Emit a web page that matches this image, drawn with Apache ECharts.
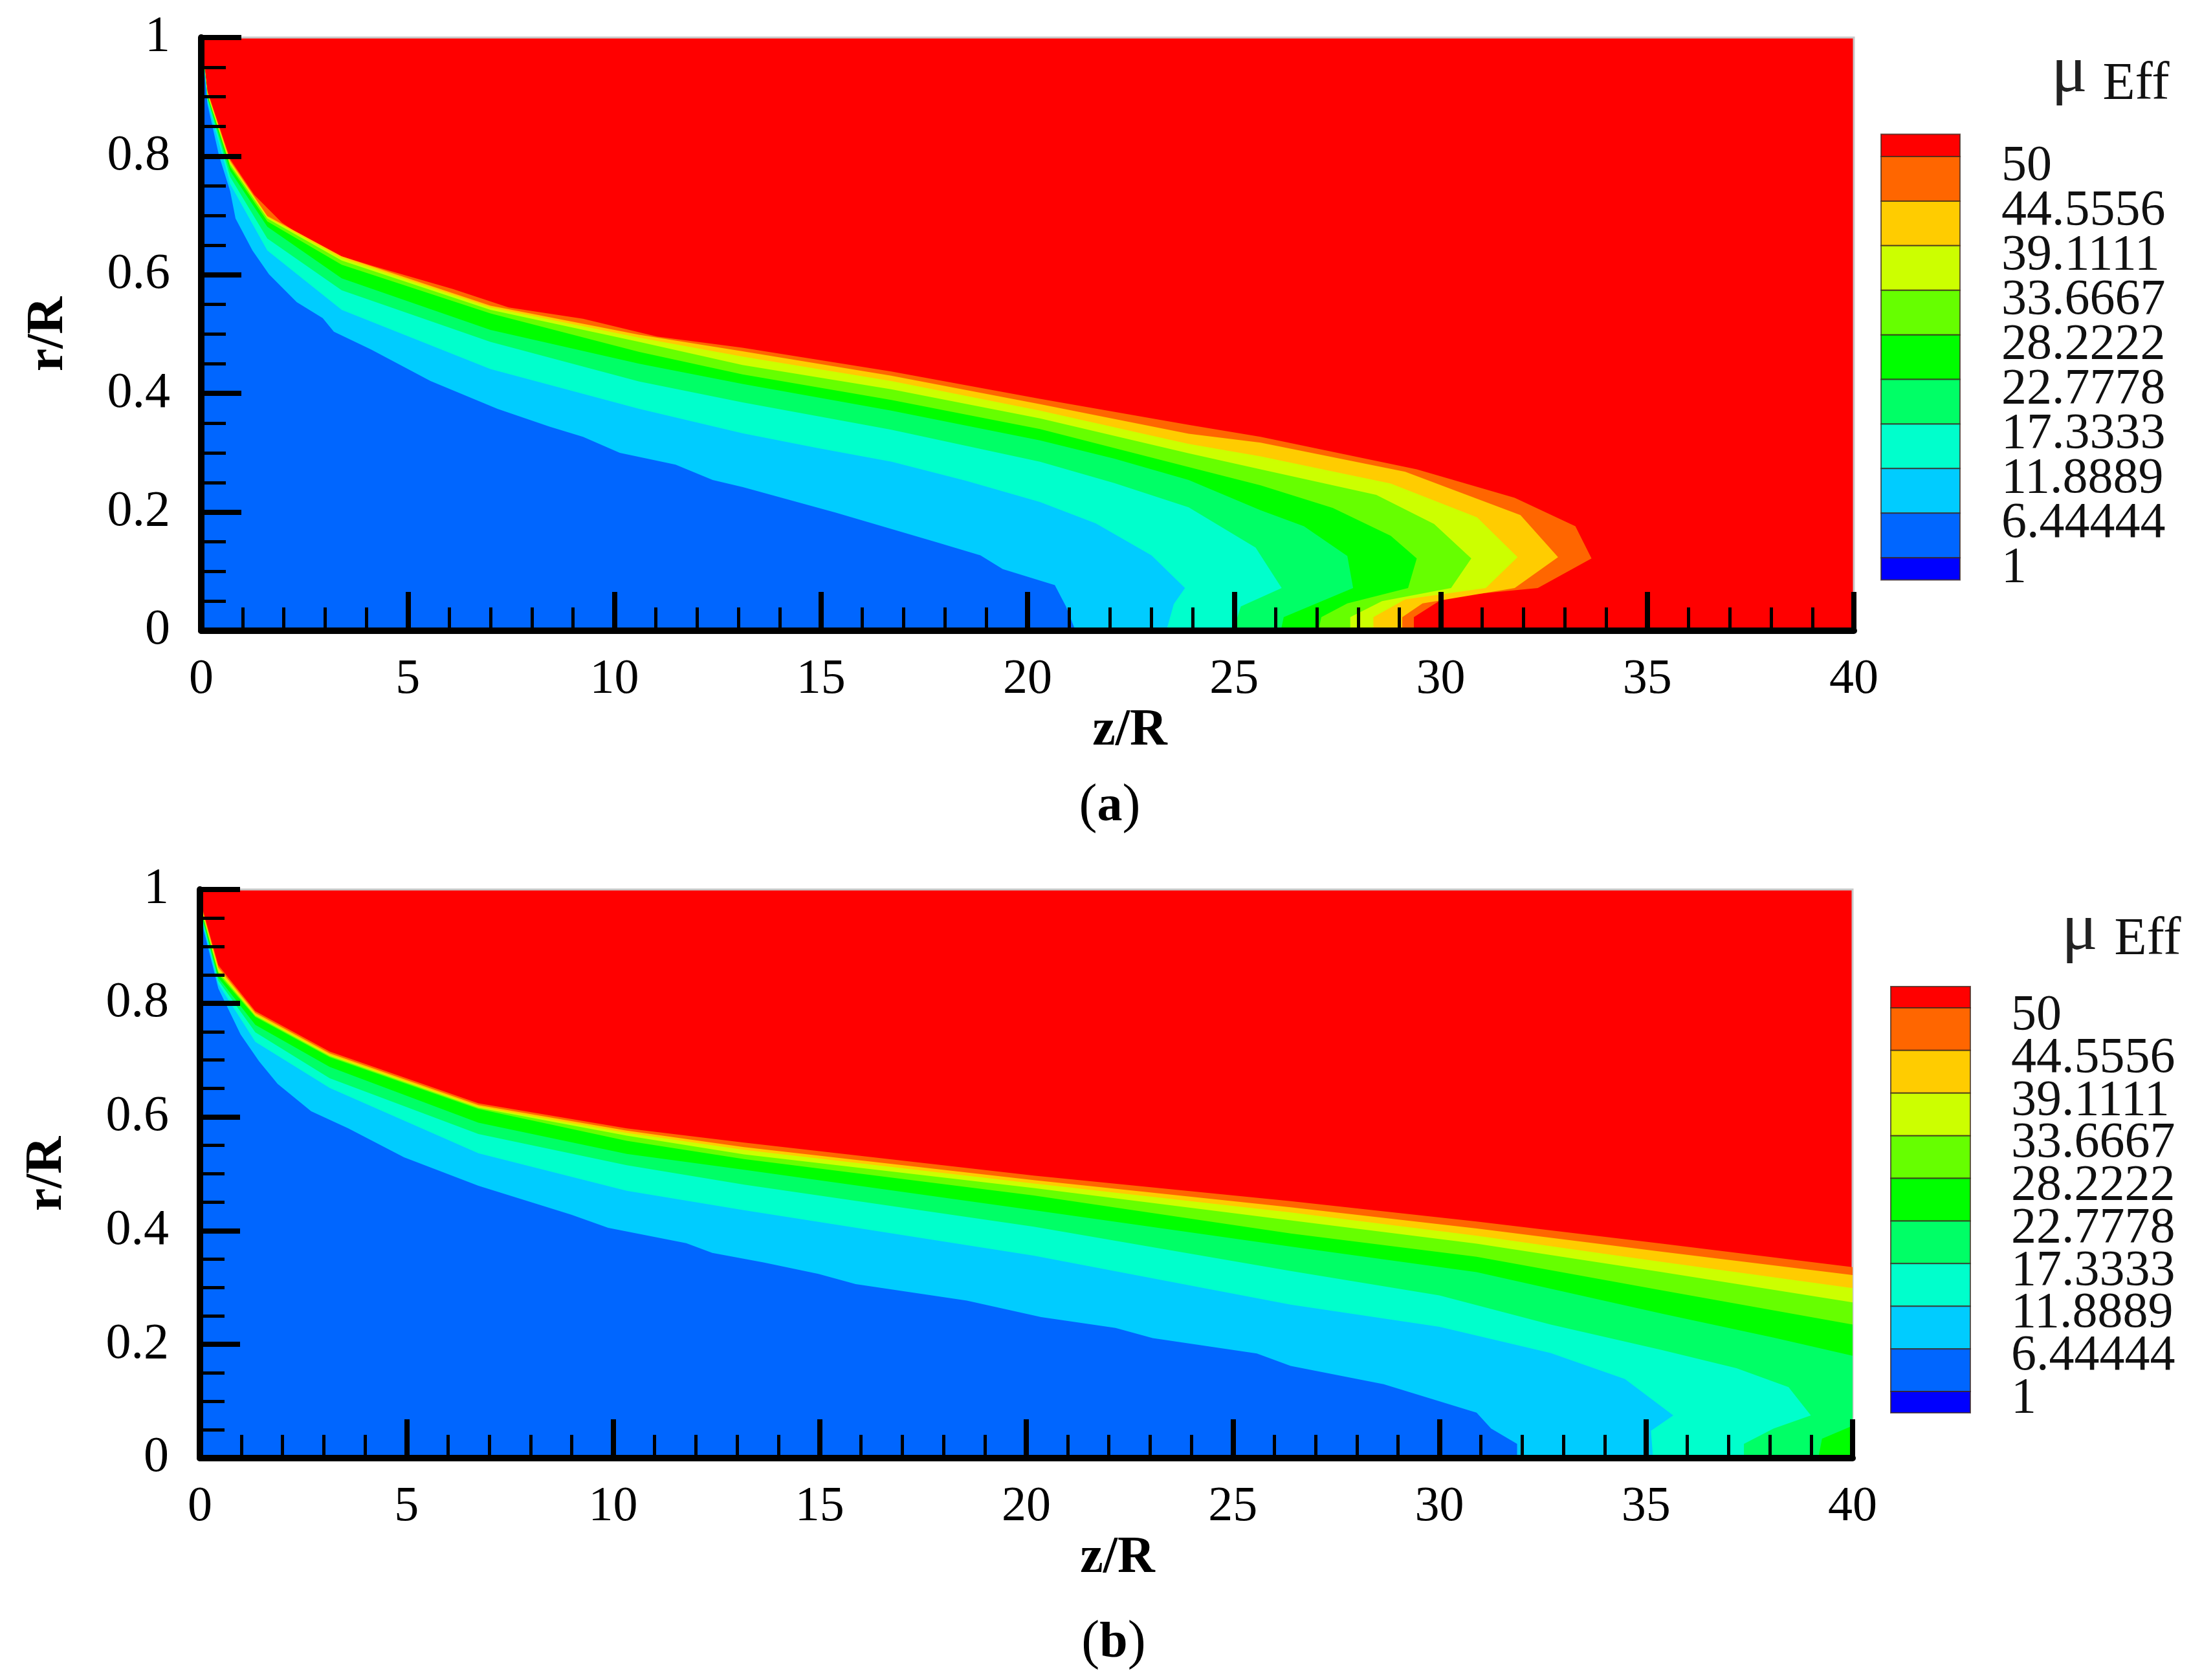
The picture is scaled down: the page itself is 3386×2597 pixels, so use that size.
<!DOCTYPE html>
<html>
<head>
<meta charset="utf-8">
<script src="https://cdn.jsdelivr.net/npm/echarts@6/dist/echarts.min.js"></script>
<style>
  html, body { margin: 0; padding: 0; background: #fff; }
  #chart { width: 3386px; height: 2597px; }
</style>
</head>
<body>
<div id="chart"></div>
<script>
// contour levels of mu_Eff, highest first
const levelLabels = ['50', '44.5556', '39.1111', '33.6667', '28.2222', '22.7778', '17.3333', '11.8889', '6.44444', '1'];
// band colours, from the band above 50 down to the band below 1
const bandColors = ['#ff0000', '#ff6600', '#ffcc00', '#ccff00', '#66ff00', '#00ff00', '#00ff66', '#00ffcc', '#00ccff', '#0066ff', '#0000ff'];

// (a) contour lines [z/R, r/R]
const a50 = [[0, 1], [0.15, 0.91], [0.7, 0.795], [1.28, 0.735], [1.95, 0.688], [2.94, 0.641], [4.11, 0.616], [6.09, 0.576], [7.44, 0.545], [9.24, 0.526], [11.03, 0.496], [13.1, 0.477], [16.7, 0.437], [20.3, 0.391], [23.9, 0.347], [25.64, 0.327], [29.42, 0.272], [31.79, 0.224], [33.26, 0.176], [33.65, 0.122], [32.35, 0.072], [30.12, 0.057], [29.35, 0.023], [29.35, 0]];
const a44 = [[0, 1], [0.15, 0.908], [0.7, 0.792], [1.6, 0.699], [3.4, 0.631], [7.0, 0.548], [10.6, 0.499], [13.1, 0.471], [16.7, 0.43], [20.3, 0.382], [23.9, 0.332], [25.64, 0.317], [29.14, 0.268], [31.93, 0.195], [32.84, 0.124], [31.79, 0.072], [29.56, 0.046], [29.07, 0.023], [29.07, 0]];
const a39 = [[0, 1], [0.15, 0.906], [0.7, 0.789], [1.6, 0.697], [3.4, 0.628], [7.0, 0.545], [10.6, 0.494], [13.1, 0.462], [16.7, 0.421], [20.3, 0.371], [23.9, 0.315], [25.64, 0.294], [28.79, 0.248], [30.88, 0.191], [31.86, 0.124], [31.09, 0.072], [29.14, 0.053], [28.37, 0.023], [28.37, 0]];
const a33 = [[0, 1], [0.15, 0.904], [0.7, 0.786], [1.6, 0.695], [3.4, 0.624], [7.0, 0.541], [10.6, 0.487], [13.1, 0.448], [16.7, 0.407], [20.3, 0.358], [23.9, 0.299], [25.64, 0.272], [28.44, 0.229], [29.84, 0.18], [30.74, 0.122], [30.25, 0.072], [28.58, 0.05], [27.81, 0.023], [27.81, 0]];
const a28 = [[0, 1], [0.15, 0.902], [0.7, 0.782], [1.6, 0.69], [3.4, 0.617], [7.0, 0.535], [10.6, 0.47], [13.1, 0.432], [16.7, 0.389], [20.3, 0.34], [23.9, 0.276], [25.64, 0.245], [27.39, 0.207], [28.79, 0.16], [29.42, 0.122], [29.21, 0.072], [27.74, 0.046], [27.11, 0.023], [27.04, 0]];
const a22 = [[0, 1], [0.15, 0.9], [0.7, 0.775], [1.6, 0.681], [3.4, 0.594], [7.0, 0.507], [10.6, 0.45], [13.1, 0.416], [16.7, 0.371], [20.3, 0.321], [22.1, 0.29], [23.9, 0.254], [25.64, 0.203], [26.69, 0.176], [27.74, 0.126], [27.88, 0.072], [26.2, 0.023], [26.13, 0]];
const a17 = [[0, 1], [0.15, 0.897], [0.7, 0.765], [1.6, 0.661], [3.4, 0.574], [7.0, 0.487], [10.6, 0.42], [13.1, 0.385], [16.7, 0.339], [20.3, 0.285], [22.1, 0.249], [23.9, 0.208], [25.52, 0.14], [26.15, 0.072], [25.16, 0.041], [24.98, 0]];
const a11 = [[0, 1], [0.15, 0.893], [0.7, 0.753], [1.6, 0.641], [3.4, 0.541], [7.0, 0.441], [10.6, 0.374], [13.1, 0.333], [14.91, 0.308], [16.71, 0.285], [18.5, 0.253], [20.3, 0.217], [21.65, 0.181], [23.0, 0.127], [23.81, 0.072], [23.54, 0.045], [23.36, 0]];
const a6 = [[0, 1], [0.15, 0.888], [0.43, 0.801], [0.7, 0.741], [0.83, 0.695], [1.24, 0.641], [1.64, 0.601], [2.31, 0.554], [2.94, 0.527], [3.21, 0.504], [4.11, 0.474], [5.55, 0.421], [7.17, 0.374], [8.43, 0.344], [9.24, 0.327], [10.13, 0.3], [11.48, 0.28], [12.38, 0.254], [13.11, 0.242], [15.36, 0.199], [17.8, 0.149], [18.86, 0.127], [19.4, 0.104], [20.66, 0.077], [20.93, 0.041], [21.16, 0]];

// (b) contour lines [z/R, r/R]
const b50 = [[0, 1], [0.085, 0.96], [0.445, 0.867], [1.34, 0.786], [3.14, 0.715], [6.74, 0.624], [10.33, 0.58], [13.17, 0.555], [20.18, 0.497], [26.4, 0.452], [30.9, 0.416], [35.39, 0.377], [40, 0.336], [40, 0]];
const b44 = [[0, 1], [0.085, 0.957], [0.445, 0.863], [1.34, 0.783], [3.14, 0.712], [6.74, 0.621], [10.33, 0.576], [13.17, 0.547], [20.18, 0.489], [26.4, 0.441], [30.9, 0.404], [35.39, 0.363], [40, 0.322], [40, 0]];
const b39 = [[0, 1], [0.085, 0.954], [0.445, 0.859], [1.34, 0.78], [3.14, 0.709], [6.74, 0.618], [10.33, 0.572], [13.17, 0.542], [20.18, 0.483], [26.4, 0.432], [30.9, 0.391], [35.39, 0.345], [40, 0.299], [40, 0]];
const b33 = [[0, 1], [0.085, 0.951], [0.445, 0.855], [1.34, 0.778], [3.14, 0.707], [6.74, 0.616], [10.33, 0.567], [13.17, 0.534], [20.18, 0.475], [26.4, 0.418], [30.9, 0.377], [35.39, 0.327], [40, 0.274], [40, 0]];
const b28 = [[0, 1], [0.085, 0.948], [0.445, 0.851], [1.34, 0.776], [3.14, 0.705], [6.74, 0.614], [10.33, 0.558], [13.17, 0.526], [20.18, 0.462], [26.4, 0.395], [30.9, 0.354], [35.39, 0.295], [40, 0.235], [40, 0]];
const b22 = [[0, 1], [0.085, 0.944], [0.445, 0.845], [1.34, 0.762], [3.14, 0.688], [6.74, 0.59], [10.33, 0.535], [13.17, 0.507], [20.18, 0.436], [26.4, 0.372], [30.9, 0.327], [35.39, 0.254], [38.09, 0.212], [40, 0.18], [40, 0.057], [39.26, 0.034], [39.17, 0]];
const b17 = [[0, 1], [0.085, 0.94], [0.445, 0.84], [1.34, 0.749], [3.14, 0.668], [6.74, 0.57], [10.33, 0.515], [13.17, 0.481], [20.18, 0.407], [26.4, 0.329], [30.0, 0.286], [32.69, 0.235], [35.39, 0.19], [37.19, 0.158], [38.45, 0.125], [38.99, 0.075], [38.09, 0.052], [37.37, 0.025], [37.37, 0]];
const b11 = [[0, 1], [0.085, 0.936], [0.445, 0.834], [1.34, 0.732], [3.14, 0.651], [6.74, 0.536], [10.33, 0.47], [13.17, 0.436], [20.18, 0.356], [26.4, 0.27], [30.0, 0.231], [32.69, 0.185], [34.49, 0.139], [35.66, 0.075], [35.12, 0.048], [35.17, 0]];
const b6 = [[0, 1], [0.085, 0.93], [0.445, 0.826], [0.985, 0.745], [1.43, 0.698], [1.88, 0.658], [2.69, 0.61], [3.59, 0.58], [4.94, 0.529], [6.74, 0.479], [8.99, 0.428], [9.88, 0.405], [11.77, 0.378], [12.4, 0.361], [13.64, 0.344], [14.97, 0.324], [15.87, 0.306], [18.56, 0.277], [20.36, 0.248], [22.16, 0.229], [23.06, 0.211], [25.58, 0.184], [26.4, 0.162], [28.65, 0.13], [30.9, 0.08], [31.25, 0.052], [31.88, 0.025], [31.88, 0]];

const contoursA = [a50, a44, a39, a33, a28, a22, a17, a11, a6];
const contoursB = [b50, b44, b39, b33, b28, b22, b17, b11, b6];

const serif = '"Liberation Serif", "DejaVu Serif", serif';
const chart = echarts.init(document.getElementById('chart'));

// fills the region under each contour line, outermost first
function contourSeries(contours, idx) {
  return {
    type: 'custom',
    xAxisIndex: idx,
    yAxisIndex: idx,
    z: 1,
    silent: true,
    animation: false,
    clip: true,
    data: contours.map((c, i) => [i, 0]),
    renderItem: function (params, api) {
      const points = contours[params.dataIndex].map(p => api.coord(p));
      points.push(api.coord([0, 0]));
      return {
        type: 'polygon',
        shape: { points: points },
        style: { fill: bandColors[params.dataIndex + 1] }
      };
    }
  };
}

function xAxisFor(idx, namePad) {
  return {
    type: 'value', gridIndex: idx, min: 0, max: 40, interval: 5, z: 5,
    name: 'z/R', nameLocation: 'middle', nameGap: 100,
    nameTextStyle: { fontFamily: serif, fontWeight: 'bold', fontSize: 80, color: '#000', padding: [0, 0, 0, namePad] },
    axisLine: { show: true, onZero: false, lineStyle: { color: '#000', width: 10 } },
    axisTick: { show: true, inside: true, length: 60, lineStyle: { color: '#000', width: 8 } },
    minorTick: { show: true, splitNumber: 5, length: 36, lineStyle: { color: '#000', width: 5 } },
    axisLabel: { margin: 38, fontFamily: serif, fontSize: 76, color: '#000' },
    splitLine: { show: false }
  };
}

function yAxisFor(idx) {
  return {
    type: 'value', gridIndex: idx, min: 0, max: 1, interval: 0.2, z: 5,
    name: 'r/R', nameLocation: 'middle', nameGap: 196, nameRotate: 90,
    nameTextStyle: { fontFamily: serif, fontWeight: 'bold', fontSize: 80, color: '#000' },
    axisLine: { show: true, onZero: false, lineStyle: { color: '#000', width: 10 } },
    axisTick: { show: true, inside: true, length: 62, lineStyle: { color: '#000', width: 8 } },
    minorTick: { show: true, splitNumber: 4, length: 38, lineStyle: { color: '#000', width: 5 } },
    axisLabel: { margin: 48, fontFamily: serif, fontSize: 78, color: '#000' },
    splitLine: { show: false }
  };
}

// colour bar with its labels and the mu_Eff title
function colorBar(left, top, width, step, labelLeft, labelTop, labelStep, muX, muY, effX, effY) {
  const els = [];
  let y = top;
  bandColors.forEach((c, i) => {
    const h = (i === 0 || i === bandColors.length - 1) ? step / 2 : step;
    els.push({
      type: 'rect', silent: true,
      shape: { x: left, y: y, width: width, height: h },
      style: { fill: c, stroke: 'rgba(60,40,30,0.75)', lineWidth: 2 }
    });
    y += h;
  });
  levelLabels.forEach((t, i) => {
    els.push({
      type: 'text', silent: true,
      style: { text: t, x: labelLeft, y: labelTop + labelStep * i, font: '78px ' + serif, fill: '#111', textAlign: 'left', textVerticalAlign: 'middle' }
    });
  });
  els.push({ type: 'text', silent: true, style: { text: 'μ', x: muX, y: muY, font: '104px ' + serif, fill: '#222', textAlign: 'center', textVerticalAlign: 'middle' } });
  els.push({ type: 'text', silent: true, style: { text: 'Eff', x: effX, y: effY, font: '82px ' + serif, fill: '#111', textAlign: 'center', textVerticalAlign: 'middle' } });
  return els;
}

function caption(letter, x, y) {
  return {
    type: 'text', silent: true,
    style: {
      text: '{n|(}{b|' + letter + '}{n|)}',
      x: x, y: y, textAlign: 'center', textVerticalAlign: 'middle',
      rich: {
        n: { fontFamily: serif, fontSize: 84, color: '#000' },
        b: { fontFamily: serif, fontSize: 78, fontWeight: 'bold', color: '#000' }
      }
    }
  };
}

const option = {
  backgroundColor: '#ffffff',
  animation: false,
  grid: [
    { left: 311, top: 58, width: 2554, height: 917, show: true, backgroundColor: '#ff0000', borderColor: '#c8c8c8', borderWidth: 3, outerBoundsMode: 'none' },
    { left: 309, top: 1375, width: 2554, height: 879, show: true, backgroundColor: '#ff0000', borderColor: '#c8c8c8', borderWidth: 3, outerBoundsMode: 'none' }
  ],
  xAxis: [xAxisFor(0, 316), xAxisFor(1, 282)],
  yAxis: [yAxisFor(0), yAxisFor(1)],
  series: [contourSeries(contoursA, 0), contourSeries(contoursB, 1)],
  graphic: {
    elements: []
      .concat(colorBar(2907, 207.6, 122, 68.9, 3093, 258, 68.9, 3198, 114, 3301, 131))
      .concat(colorBar(2922, 1525, 123, 65.9, 3108, 1571, 65.67, 3214, 1440, 3319, 1453))
      .concat([caption('a', 1715, 1248), caption('b', 1721, 2541)])
  }
};

chart.setOption(option);
</script>
</body>
</html>
